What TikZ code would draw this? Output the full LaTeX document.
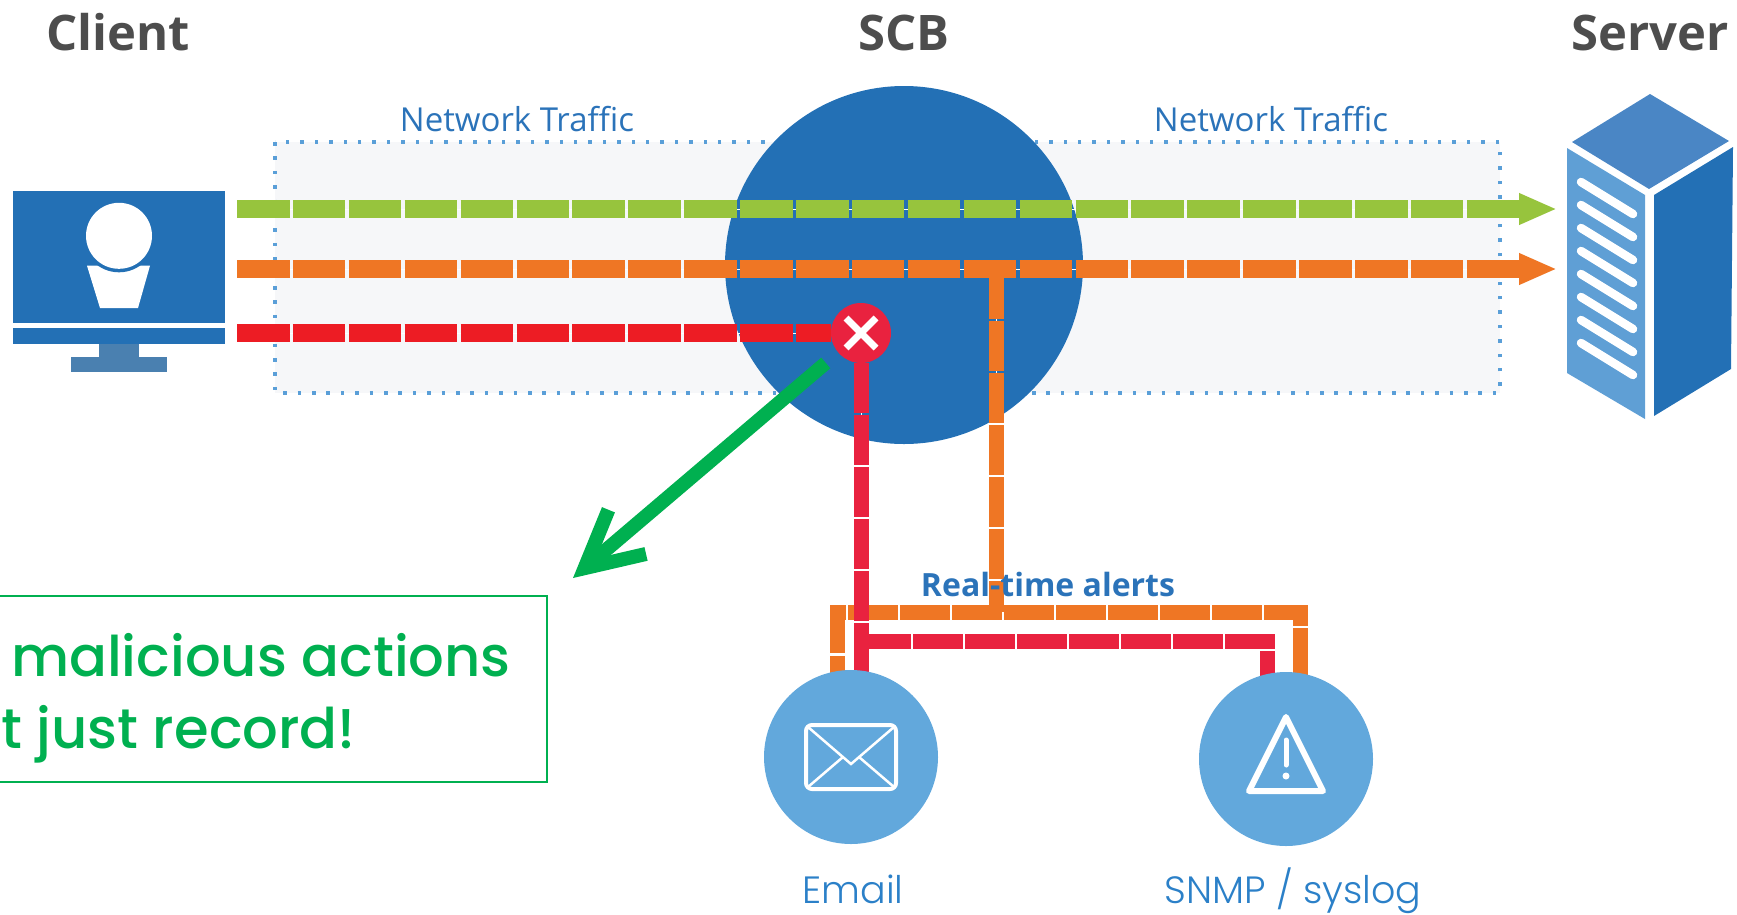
\documentclass[tikz,border=0pt]{standalone}
\usepackage{fontspec}
\usepackage{xcolor}
\usepackage{tikz}
\usetikzlibrary{arrows.meta}
\usetikzlibrary{calc}
\newfontfamily\headfont{Open Sans}
\newfontfamily\roundfont{Poppins Medium}
\newfontfamily\thinfont{Poppins Light}
\definecolor{scbblue}{HTML}{2370B5}
\definecolor{standblue}{HTML}{4A80B0}
\definecolor{srvtop}{HTML}{4A86C5}
\definecolor{srvside}{HTML}{5F9FD5}
\definecolor{bubbleblue}{HTML}{62A8DC}
\definecolor{labelblue}{HTML}{2B73B9}
\definecolor{mailblue}{HTML}{2B80C8}
\definecolor{titlegray}{HTML}{4D4D4D}
\definecolor{boxgray}{HTML}{F6F7F9}
\definecolor{dotblue}{HTML}{5A9FD8}
\definecolor{okgreen}{HTML}{97C43D}
\definecolor{warnorange}{HTML}{EF7624}
\definecolor{stopred}{HTML}{ED1C24}
\definecolor{alertred}{HTML}{E9223F}
\definecolor{notegreen}{HTML}{00B050}
\pgfdeclarelayer{back}
\pgfsetlayers{back,main}
\tikzstyle{heading} = [font=\headfont\bfseries\fontsize{49}{49}\selectfont, text=titlegray, anchor=base]
\tikzstyle{nettext} = [font=\headfont\fontsize{33}{33}\selectfont, text=labelblue, anchor=base]
\tikzstyle{traffic} = [line width=18pt, dash pattern=on 52.5pt off 3.4pt, preaction={draw=white,solid}]
\tikzstyle{alertline} = [line width=15pt, dash pattern=on 49.5pt off 2.5pt, preaction={draw=white,solid}]
\tikzstyle{bubble} = [circle, fill=bubbleblue, minimum size=174pt, inner sep=0pt]
\tikzstyle{bubbletext} = [font=\thinfont\fontsize{38}{38}\selectfont, text=mailblue, anchor=base]
\tikzstyle{notetext} = [font=\roundfont\fontsize{56}{56}\selectfont, text=notegreen, inner sep=0pt]

\begin{document}
\begin{tikzpicture}[x=1pt,y=-1pt]
				\useasboundingbox (0,0) rectangle (1737,914);
				\clip (0,0) rectangle (1737,914);
				%%%%%%%%%%%%%%%%%%%%%%%%%%%%%%%%%%
				\node[heading] (clientlbl) at (118,50) {Client};
				\node[heading] (scblbl) at (904,50) {SCB};
				\node[heading] (serverlbl) at (1650,50) {Server};
				\node[nettext] (net1) at (517,131) {Network Traffic};
				\node[nettext] (net2) at (1271,131) {Network Traffic};
				%%%%%%%%%%%%%%%%%%%%%%%%%%%%%%%%%%
				% client monitor
				\node[fill=scbblue, minimum width=212pt, minimum height=132pt, inner sep=0pt] (client) at (119,256.7) {};
				\fill[scbblue] (13,328) rectangle (225,343.7);
				\fill[standblue] (99,343.7) rectangle (139,357);
				\fill[standblue] (71,357) rectangle (167,372);
				\fill[white] (87,265.7) -- (150,265.7) -- (138,308) -- (100,308) -- cycle;
				\fill[scbblue] (119,235.8) circle[radius=36.5];
				\fill[white] (119,235.8) circle[radius=33];
				%%%%%%%%%%%%%%%%%%%%%%%%%%%%%%%%%%
				% server box
				\fill[srvtop] (1572,142) -- (1650,94) -- (1729,141) -- (1649,189) -- cycle;
				\fill[srvside] (1567,148) -- (1645,195) -- (1645,419) -- (1567,373) -- cycle;
				\fill[scbblue] (1654,195) -- (1733,147) -- (1731,369) -- (1654,416) -- cycle;
				\foreach \i in {0,...,7}
					\draw[white, line width=8.5pt, line cap=round] (1581,{182+23*\i}) -- (1633,{214+23*\i});
				%%%%%%%%%%%%%%%%%%%%%%%%%%%%%%%%%%
				\node[circle, fill=alertred, minimum size=60pt, inner sep=0pt] (block) at (861,333) {};
				\draw[white, line width=7pt] ($(block)+(-15,-15)$) -- ($(block)+(15,15)$);
				\draw[white, line width=7pt] ($(block)+(-15,15)$) -- ($(block)+(15,-15)$);
				\node[bubble] (email) at (851,757) {};
				\node[bubble] (snmp) at (1286,759) {};
				\node[bubbletext] at (853,903) {Email};
				\node[bubbletext] at (1293,903) {SNMP / syslog};
				% envelope
				\draw[white, line width=4pt, rounded corners=6pt] (806,725) rectangle (896,789);
				\draw[white, line width=2.5pt] (808,727) -- (851,764) -- (894,727);
				\draw[white, line width=2.5pt] (808,787) -- (843,757);
				\draw[white, line width=2.5pt] (894,787) -- (859,757);
				% warning sign
				\draw[white, line width=6pt, line join=round] (1286,717) -- (1323,791) -- (1249,791) -- cycle;
				\draw[white, line width=5pt, line cap=round] (1286,740) -- (1286,765);
				\fill[white] (1286,776) circle[radius=3.5];
				\node[font=\headfont\bfseries\fontsize{32}{32}\selectfont, text=labelblue, anchor=base] (rtlbl) at (1048,596) {Real-time alerts};
				%%%%%%%%%%%%%%%%%%%%%%%%%%%%%%%%%%
				\coordinate (g0) at (237,209);
				\coordinate (g1) at (1557,209);
				\coordinate (o0) at (237,269);
				\coordinate (o1) at (1557,269);
				\coordinate (r0) at (237,333);
				\coordinate (tap) at (996,269);
				\coordinate (obusL) at (837,612);
				\coordinate (obusR) at (1300,612);
				\coordinate (rbusR) at (1267,641);
				\coordinate (tip) at (573,578);
				\begin{pgfonlayer}{back}
					\draw[fill=boxgray, draw=dotblue, line width=3.5pt, dash pattern=on 3.5pt off 10.9pt] (275,142) rectangle (1500,393);
					\node[circle, fill=scbblue, minimum size=358pt, inner sep=0pt] (scb) at (904,265) {};
					\draw[traffic, okgreen, -{Triangle[length=38pt,width=29pt]}] (g0) -- (g1);
					\draw[traffic, warnorange, -{Triangle[length=38pt,width=29pt]}] (o0) -- (o1);
					\draw[traffic, stopred] (r0) -- (block);
					\draw[alertline, warnorange] (tap) -- (tap |- obusL);
					\draw[alertline, warnorange] (email.center -| obusL) -- (obusL) -- (obusR) -- (snmp.center -| obusR);
					\draw[alertline, alertred] (block) -- (block |- email.center);
					\draw[alertline, alertred] (block |- rbusR) -- (rbusR) -- (rbusR |- snmp.center);
				\end{pgfonlayer}
				\draw[notegreen, line width=14pt, shorten <=16pt, -{Straight Barb[length=56pt,width=58pt]}] (block) -- (tip);
				%%%%%%%%%%%%%%%%%%%%%%%%%%%%%%%%%%
				\node[draw=notegreen, line width=1.5pt, minimum width=578pt, minimum height=186pt, inner sep=0pt] (note) at (258,689) {};
				\node[notetext, anchor=base east] (line1) at (511,676) {malicious actions};
				\node[notetext, anchor=base east] (line2) at (356,748) {t just record!};
			\end{tikzpicture}
\end{document}
